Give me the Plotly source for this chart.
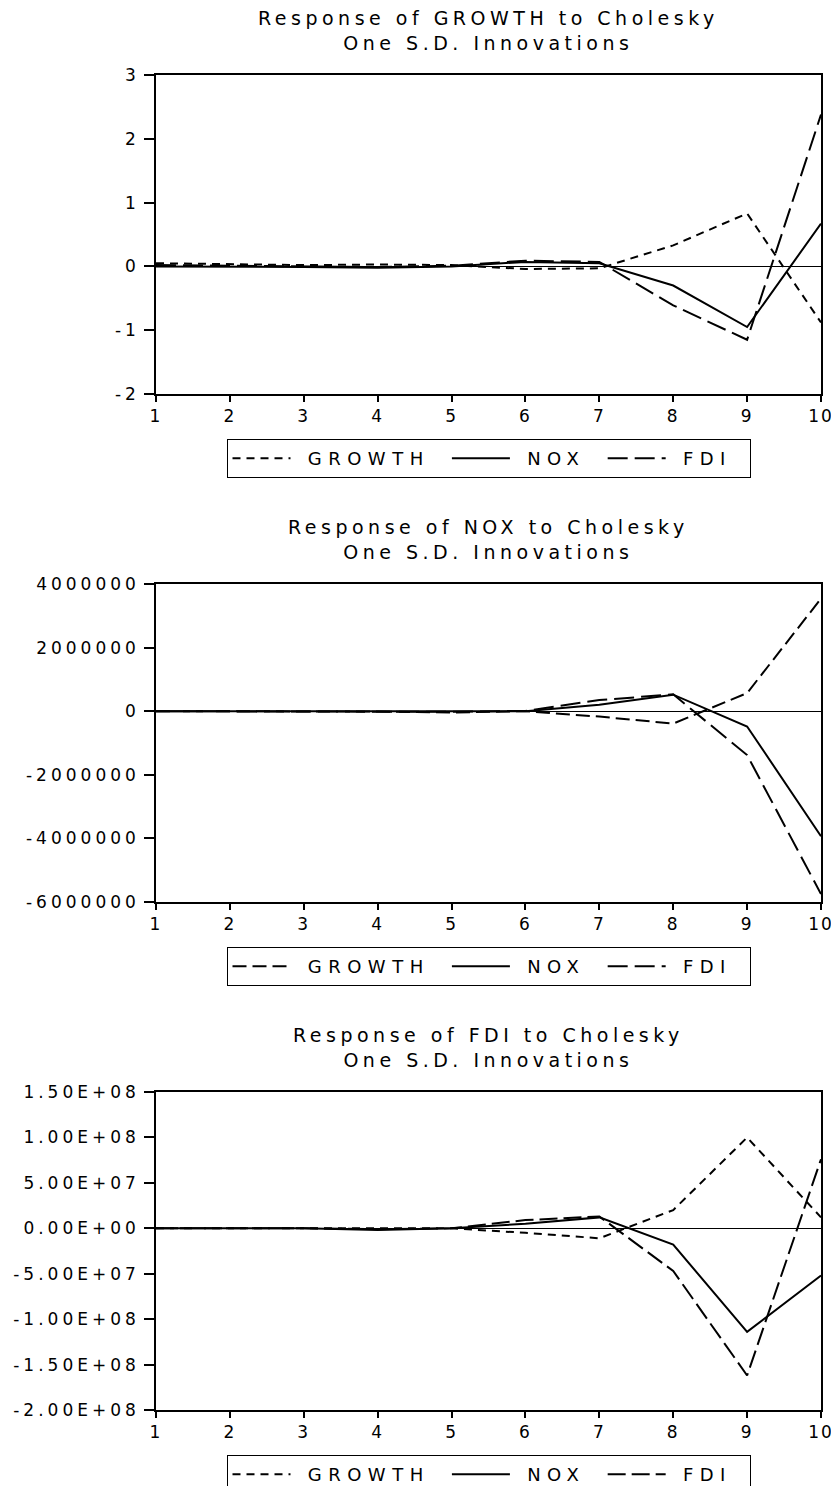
import plotly.graph_objects as go

# ---------------- data ----------------
periods = [1, 2, 3, 4, 5, 6, 7, 8, 9, 10]
series_names = ["GROWTH", "NOX", "FDI"]

# Response of GROWTH
growth_resp_growth = [0.05, 0.03, 0.02, 0.03, 0.02, -0.04, -0.03, 0.33, 0.83, -0.88]
growth_resp_nox = [0.00, 0.00, -0.01, -0.02, 0.00, 0.07, 0.05, -0.30, -0.95, 0.67]
growth_resp_fdi = [0.02, 0.01, 0.00, -0.01, 0.01, 0.09, 0.07, -0.61, -1.15, 2.38]

# Response of NOX
nox_resp_growth = [0, 0, 0, -10000, -40000, 0, -170000, -390000, 570000, 3540000]
nox_resp_nox = [0, 0, 0, 0, 0, 0, 200000, 520000, -480000, -3930000]
nox_resp_fdi = [0, 0, 0, 0, -20000, 10000, 350000, 530000, -1380000, -5750000]

# Response of FDI
fdi_resp_growth = [0, 0, 0, 0, 0, -5e6, -1.1e7, 2.0e7, 1.0e8, 1.2e7]
fdi_resp_nox = [0, 0, 0, -2e6, 0, 5e6, 1.2e7, -1.8e7, -1.14e8, -5.2e7]
fdi_resp_fdi = [0, 0, 0, -1e6, 0, 9e6, 1.3e7, -4.7e7, -1.62e8, 7.6e7]

titles = [
    ["Response of GROWTH to Cholesky", "One S.D. Innovations"],
    ["Response of NOX to Cholesky", "One S.D. Innovations"],
    ["Response of FDI to Cholesky", "One S.D. Innovations"],
]

x_ticks = periods
x_ticklabels = ["1", "2", "3", "4", "5", "6", "7", "8", "9", "10"]

p1_ticks = [3, 2, 1, 0, -1, -2]
p1_ticklabels = ["3", "2", "1", "0", "-1", "-2"]
p2_ticks = [4000000, 2000000, 0, -2000000, -4000000, -6000000]
p2_ticklabels = ["4000000", "2000000", "0", "-2000000", "-4000000", "-6000000"]
p3_ticks = [1.5e8, 1.0e8, 5.0e7, 0, -5.0e7, -1.0e8, -1.5e8, -2.0e8]
p3_ticklabels = ["1.50E+08", "1.00E+08", "5.00E+07", "0.00E+00",
                 "-5.00E+07", "-1.00E+08", "-1.50E+08", "-2.00E+08"]

# ---------------- layout constants ----------------
W, H = 839, 1486
OFF = 8          # page body margin: the figure starts 8px from the window edge
PL, PR = 156, 821
tops = [75, 584, 1092]
bottoms = [394, 902, 1410]
FONT = "DejaVu Sans"


def fx(px):
    return (px - OFF) / W


def fy(px):
    return 1 - (px - OFF) / H


def sp(text, px):
    return '<span style="letter-spacing:%spx">%s</span>' % (px, text)


def legend_label(text):
    return sp("\u00a0" + text + "\u00a0", 6.5)


panels = [
    dict(vals=[growth_resp_growth, growth_resp_nox, growth_resp_fdi],
         dashes=["8px,6px", "solid", "20px,7px"],
         ticks=p1_ticks, labels=p1_ticklabels, rng=[-2, 3]),
    dict(vals=[nox_resp_growth, nox_resp_nox, nox_resp_fdi],
         dashes=["14px,6px", "solid", "20px,7px"],
         ticks=p2_ticks, labels=p2_ticklabels, rng=[-6000000, 4000000]),
    dict(vals=[fdi_resp_growth, fdi_resp_nox, fdi_resp_fdi],
         dashes=["8px,6px", "solid", "18px,6px"],
         ticks=p3_ticks, labels=p3_ticklabels, rng=[-2.0e8, 1.5e8]),
]

fig = go.Figure()
layout = dict(
    width=W, height=H, autosize=False,
    margin=dict(l=0, r=0, t=0, b=0),
    paper_bgcolor="white", plot_bgcolor="white",
    font=dict(family=FONT, color="black", size=17),
    annotations=[],
    template="none",
)

for i, p in enumerate(panels):
    n = i + 1
    xa = "x" if n == 1 else "x%d" % n
    ya = "y" if n == 1 else "y%d" % n
    leg = "legend" if n == 1 else "legend%d" % n
    for name, vals, dash in zip(series_names, p["vals"], p["dashes"]):
        fig.add_trace(go.Scatter(
            x=periods, y=vals, mode="lines", name=legend_label(name),
            line=dict(color="black", width=2, dash=dash),
            xaxis=xa, yaxis=ya, legend=leg, showlegend=True,
        ))
    axis_common = dict(showline=True, linecolor="black", linewidth=1.5,
                       mirror=True, showgrid=False, ticks="outside",
                       tickcolor="black", tickfont=dict(family=FONT, size=17))
    layout["xaxis" if n == 1 else "xaxis%d" % n] = dict(
        axis_common, domain=[fx(PL), fx(PR)], range=[1, 10], anchor=ya,
        tickmode="array", tickvals=x_ticks,
        ticktext=[sp(t, 2) for t in x_ticklabels],
        ticklen=6, tickwidth=1.5, zeroline=False,
    )
    layout["yaxis" if n == 1 else "yaxis%d" % n] = dict(
        axis_common, domain=[fy(bottoms[i]), fy(tops[i])], range=p["rng"],
        anchor=xa, tickmode="array", tickvals=p["ticks"],
        ticktext=[sp(t, 4) for t in p["labels"]],
        ticklen=10, tickwidth=1.5, ticklabelstandoff=1,
        zeroline=True, zerolinecolor="black", zerolinewidth=1,
    )
    layout[leg] = dict(
        orientation="h", x=fx((PL + PR) / 2), xanchor="center",
        y=fy(bottoms[i] + 45), yanchor="top",
        bordercolor="black", borderwidth=1, bgcolor="white",
        font=dict(family=FONT, size=18, color="black"),
        itemwidth=58,
    )
    line1, line2 = titles[i]
    layout["annotations"].append(dict(
        xref="paper", yref="paper", x=fx((PL + PR) / 2),
        y=fy(tops[i] - 44.5), xanchor="center", yanchor="middle",
        showarrow=False, align="center",
        text=sp(line1, 4.5) + "<br>" + sp(line2, 4.5),
        font=dict(family=FONT, size=19, color="black"),
    ))

fig.update_layout(**layout)
fig.write_html("out.html")
